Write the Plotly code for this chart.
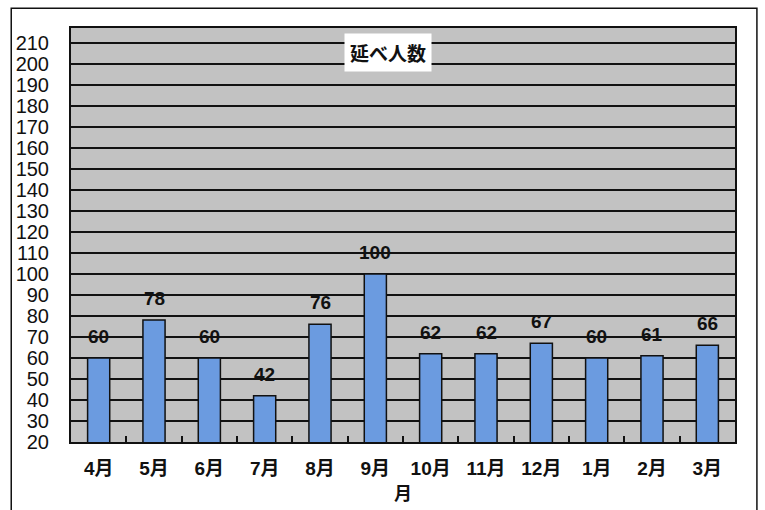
import plotly.graph_objects as go

months = ["4月", "5月", "6月", "7月", "8月", "9月", "10月", "11月", "12月", "1月", "2月", "3月"]
counts = [60, 78, 60, 42, 76, 100, 62, 62, 67, 60, 61, 66]
y_ticks = list(range(20, 211, 10))

num_font = "Liberation Sans, Arial, sans-serif"
jp_font = "Liberation Sans, Noto Sans CJK JP, sans-serif"

fig = go.Figure()
fig.add_trace(go.Bar(
    x=months, y=counts,
    marker=dict(color="#6b9be0", line=dict(color="#111111", width=1.5)),
))

label_annots = [
    dict(x=m, y=v, xref="x", yref="y", text="<b>%d</b>" % v, showarrow=False,
         yanchor="bottom", yshift=9,
         font=dict(size=19, family=num_font, color="#111111"))
    for m, v in zip(months, counts)
]

fig.update_layout(
    width=765, height=510,
    margin=dict(l=71, r=30, t=28, b=68),
    paper_bgcolor="white",
    plot_bgcolor="#c2c2c2",
    bargap=0.6,
    showlegend=False,
    font=dict(family=num_font, color="#111111"),
    xaxis=dict(
        type="category",
        showline=True, linecolor="#111111", linewidth=2, mirror=True,
        ticks="inside", tickson="boundaries", ticklen=6, tickcolor="#111111", tickwidth=1.5,
        tickfont=dict(size=19, family=jp_font, color="#111111", weight="bold"),
        ticklabelstandoff=8,
        title=dict(text="<b>月</b>", font=dict(size=18, family="Noto Sans CJK JP, sans-serif"), standoff=2),
        showgrid=False,
    ),
    yaxis=dict(
        range=[20, 217],
        tickvals=y_ticks,
        showline=True, linecolor="#111111", linewidth=2, mirror=True,
        showgrid=True, gridcolor="#111111", gridwidth=1.5,
        ticks="outside", ticklen=16, tickcolor="rgba(0,0,0,0)", zeroline=False,
        tickfont=dict(size=20, family=num_font, color="#111111"),
    ),
    annotations=label_annots + [dict(
        text="<b>延べ人数</b>", x=0.478, y=205.5, xref="paper", yref="y",
        showarrow=False, bgcolor="white", borderpad=5,
        font=dict(size=19, family="Noto Sans CJK JP, sans-serif", color="#111111"),
    )],
    shapes=[dict(
        type="rect", xref="paper", yref="paper", layer="below",
        x0=-0.09, x1=1.033, y0=-0.17, y1=1.048,
        line=dict(color="#111111", width=1.5),
    )],
)

fig.write_html("out.html")
